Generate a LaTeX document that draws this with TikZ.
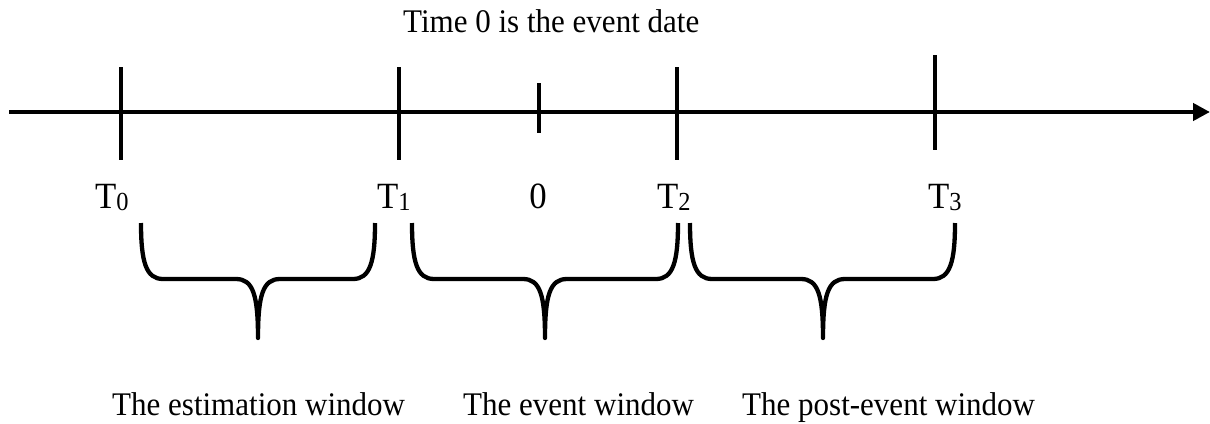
\documentclass[tikz,border=0pt]{standalone}
\usepackage{fontspec}
\setmainfont{Liberation Serif}[FakeStretch=0.94]
\usetikzlibrary{arrows.meta}
\tikzset{
  thick line/.style={line width=4.5pt},
  ticklbl/.style={anchor=base west, inner sep=0pt, font=\fontsize{37}{37}\selectfont},
  txt/.style={anchor=base west, inner sep=0pt, font=\fontsize{33}{33}\selectfont},
  bracepath/.style={line width=4.3pt, line join=round},
}
\newcommand{\Tsub}[1]{T{\fontsize{26}{26}\selectfont\raisebox{-2pt}{#1}}}
\begin{document}
\begin{tikzpicture}[x=1pt,y=-1pt]
\useasboundingbox (0,0) rectangle (1210,423);
% axis
\coordinate (start) at (9,112);
\coordinate (end) at (1210,112);
\draw[thick line, -{Triangle[length=17pt,width=17pt]}] (start) -- (end);
% ticks
\coordinate (t0a) at (121,67);  \coordinate (t0b) at (121,160);
\coordinate (t1a) at (399,67);  \coordinate (t1b) at (399,160);
\coordinate (z0a) at (539,83);  \coordinate (z0b) at (539,133);
\coordinate (t2a) at (677,67);  \coordinate (t2b) at (677,160);
\coordinate (t3a) at (935,55);  \coordinate (t3b) at (935,150);
\draw[thick line] (t0a) -- (t0b);
\draw[thick line] (t1a) -- (t1b);
\draw[thick line] (z0a) -- (z0b);
\draw[thick line] (t2a) -- (t2b);
\draw[thick line] (t3a) -- (t3b);
% title
\node[txt] (title) at (403,32) {Time 0 is the event date};
% tick labels
\node[ticklbl] (T0) at (95,208) {\Tsub{0}};
\node[ticklbl] (T1) at (377,208) {\Tsub{1}};
\node[ticklbl, anchor=base] (Z) at (538,208) {0};
\node[ticklbl] (T2) at (657,208) {\Tsub{2}};
\node[ticklbl] (T3) at (928,208) {\Tsub{3}};
% braces
\foreach \xl/\xr/\m in {141/375/258, 412/678/545, 690/955/823}{
  \draw[bracepath] (\xl,223) .. controls (\xl,262) and (\xl+5,279) .. (\xl+22,279)
    -- (\m-22,279) .. controls (\m-5,279) and (\m,295) .. (\m,338)
    .. controls (\m,295) and (\m+5,279) .. (\m+22,279)
    -- (\xr-22,279) .. controls (\xr-5,279) and (\xr,262) .. (\xr,223);
}
% window labels
\node[txt] (w1) at (112,415) {The estimation window};
\node[txt] (w2) at (463,415) {The event window};
\node[txt] (w3) at (742,415) {The post-event window};
\end{tikzpicture}
\end{document}
